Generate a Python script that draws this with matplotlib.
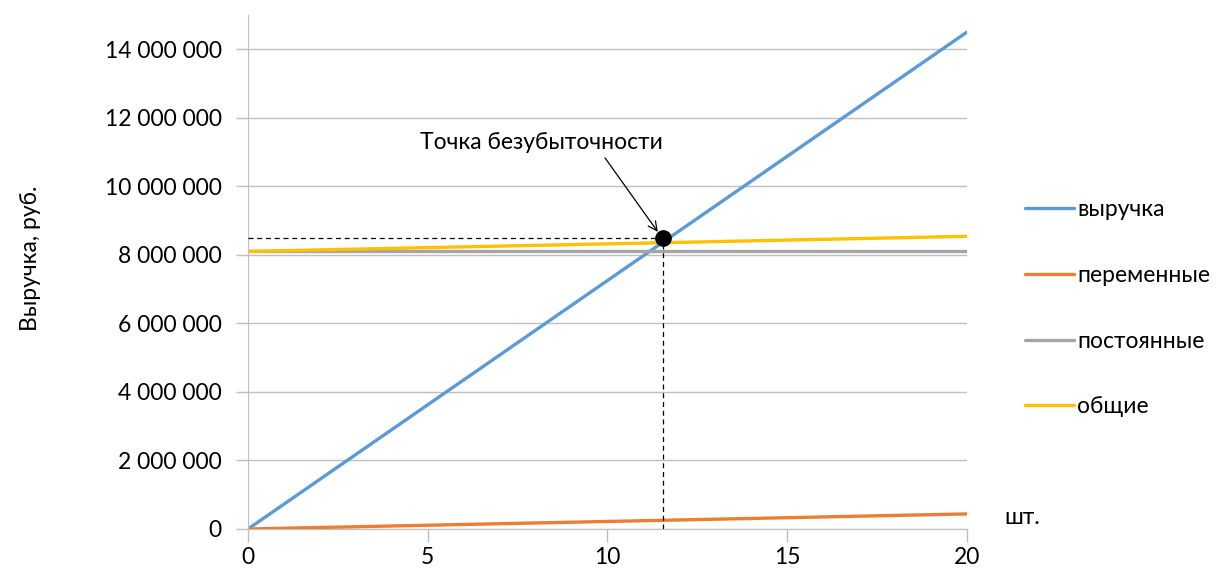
import matplotlib
matplotlib.use("Agg")
import matplotlib.pyplot as plt
from matplotlib.ticker import FuncFormatter

plt.rcParams["font.family"] = ["Lato", "DejaVu Sans"]
FS = 16.5

# объём, шт.
qty = [0, 5, 10, 15, 20]
# выручка, переменные, постоянные и общие затраты, руб.
revenue = [0, 3625000, 7250000, 10875000, 14500000]
variable = [0, 110000, 220000, 330000, 440000]
fixed = [8100000, 8100000, 8100000, 8100000, 8100000]
total = [8100000, 8210000, 8320000, 8430000, 8540000]

series_names = ["выручка", "переменные", "постоянные", "общие"]
colors = ["#5B9BD5", "#ED7D31", "#A5A5A5", "#FFC000"]

bep_qty = 11.55
bep_value = 8480000

fig = plt.figure(figsize=(12.29, 5.74), dpi=100)
ax = fig.add_axes([0.2018, 0.0784, 0.585, 0.8956])

for vals, name, c in zip([revenue, variable, fixed, total], series_names, colors):
    ax.plot(qty, vals, color=c, lw=2.4, label=name, solid_capstyle="round")

# точка безубыточности с пунктирными выносками
ax.plot([0, bep_qty], [bep_value, bep_value], ls=(0, (4, 3)), color="black", lw=0.9, zorder=4)
ax.plot([bep_qty, bep_qty], [0, bep_value], ls=(0, (4, 3)), color="black", lw=0.9, zorder=4)
ax.plot(bep_qty, bep_value, "o", color="black", ms=11, zorder=5)
ax.text(8.15, 11290000, "Точка безубыточности", ha="center", va="center", fontsize=FS)
ax.annotate("", xy=(11.40, 8670000), xytext=(9.93, 10830000),
            arrowprops=dict(arrowstyle="->", color="black", lw=0.9,
                            shrinkA=0, shrinkB=0, mutation_scale=16))

ax.set_xlim(0, 20)
ax.set_ylim(0, 15000000)
ax.set_xticks([0, 5, 10, 15, 20])
ax.set_yticks(range(0, 14000001, 2000000))
ax.yaxis.set_major_formatter(FuncFormatter(lambda v, p: f"{int(v):,}".replace(",", " ")))
ax.grid(axis="y", color="#BFBFBF", lw=1)
ax.set_axisbelow(True)

for s in ["top", "right"]:
    ax.spines[s].set_visible(False)
for s in ["left", "bottom"]:
    ax.spines[s].set_color("#BFBFBF")
ax.tick_params(axis="both", colors="#BFBFBF", labelcolor="black", labelsize=FS,
               length=9, width=1)
ax.tick_params(axis="x", pad=4)
ax.tick_params(axis="y", pad=10)

fig.text(0.025, 0.55, "Выручка, руб.", rotation=90, ha="center", va="center", fontsize=FS)
fig.text(0.817, 0.099, "шт.", ha="left", va="center", fontsize=FS)

ax.legend(loc="center left", bbox_to_anchor=(1.081, 0.429), frameon=False, fontsize=FS,
          handlelength=2.15, handletextpad=0.12, labelspacing=1.95,
          borderpad=0, borderaxespad=0)

fig.savefig("out.png", dpi=100)
